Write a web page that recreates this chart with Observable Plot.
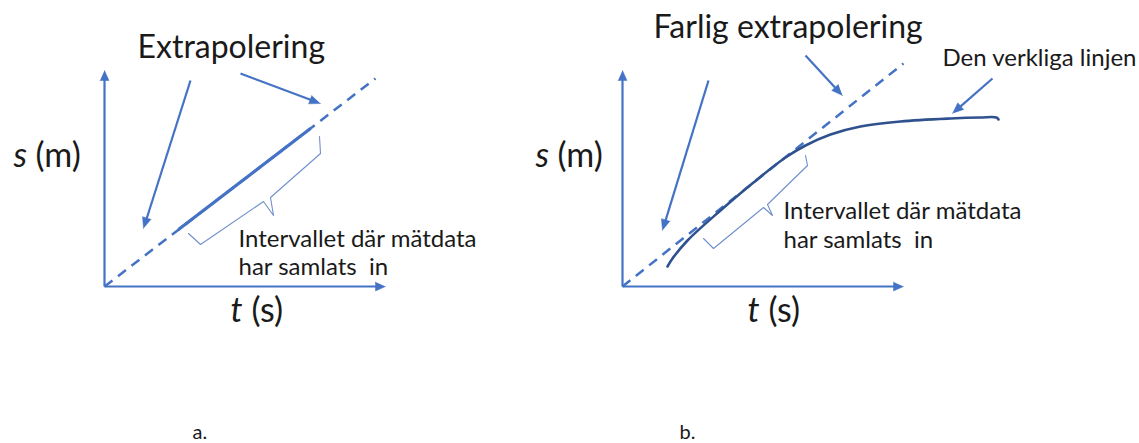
<!DOCTYPE html>
<html>
<head>
<meta charset="utf-8">
<script src="https://cdn.jsdelivr.net/npm/d3@7"></script>
<script src="https://cdn.jsdelivr.net/npm/@observablehq/plot@0.6"></script>
<style>
  html, body { margin: 0; padding: 0; background: #fff; }
  svg { display: block; }
</style>
</head>
<body>
<div id="chart"></div>
<script>
// ---- Diagram data (diagram units) ----
const axes = [
  {panel: "a", x1: 104, y1: 286, x2: 104, y2: 70},
  {panel: "a", x1: 104, y1: 286, x2: 385, y2: 286},
  {panel: "b", x1: 622, y1: 286, x2: 622, y2: 70},
  {panel: "b", x1: 622, y1: 286, x2: 903, y2: 286}
];
const pointers = [
  {panel: "a", x1: 190, y1: 80, x2: 143, y2: 228},
  {panel: "a", x1: 240, y1: 73, x2: 320, y2: 103},
  {panel: "b", x1: 708, y1: 80, x2: 662, y2: 230},
  {panel: "b", x1: 805, y1: 55, x2: 842, y2: 95},
  {panel: "b", x1: 992, y1: 78, x2: 952, y2: 113}
];
const extrapolated = [
  {panel: "a", x1: 104, y1: 286, x2: 375, y2: 78},
  {panel: "b", x1: 622, y1: 286, x2: 903, y2: 63}
];
const measured = [
  {panel: "a", x1: 178, y1: 229, x2: 310, y2: 128}
];
const realCurveX = [667, 672, 687, 720, 753, 785, 805, 830, 860, 900, 950, 980, 996, 998];
const realCurveY = [266, 258, 240, 210, 182, 157, 145, 134, 126, 121, 118, 117, 117, 119];
const braceA = [[188, 233], [200, 244], [263, 201], [273, 215], [270, 197], [320, 153], [319, 136]];
const braceB = [[703, 238], [713, 248], [763, 207], [772, 215], [767, 204], [807, 165], [805, 155]];
const titles = [
  {x: 137, y: 57, text: "Extrapolering"},
  {x: 653, y: 37, text: "Farlig extrapolering"}
];
const notes = [
  {x: 942, y: 65, text: "Den verkliga linjen"},
  {x: 238, y: 246, text: "Intervallet där mätdata"},
  {x: 238, y: 274, text: "har samlats\u00A0 in"},
  {x: 783, y: 218, text: "Intervallet där mätdata"},
  {x: 783, y: 247, text: "har samlats\u00A0 in"}
];
const axisVars = [
  {x: 13, y: 166, text: "s"}, {x: 535, y: 166, text: "s"},
  {x: 230, y: 321, text: "t"}, {x: 747, y: 321, text: "t"}
];
const axisUnits = [
  {x: 35, y: 166, text: "(m)"}, {x: 557, y: 166, text: "(m)"},
  {x: 251, y: 321, text: "(s)"}, {x: 768, y: 321, text: "(s)"}
];
const panelLabels = [
  {x: 192, y: 438, text: "a."},
  {x: 679, y: 438, text: "b."}
];

// ---- helpers ----
const BLUE = "#4472C4", DARK = "#2F528F", BRACE = "#6F8FCB", INK = "#1a1a1a";
const FONT = "Lato, 'Open Sans', sans-serif";

function heads(arrows, len, half) {
  const shafts = [], tris = [];
  arrows.forEach((a, i) => {
    const dx = a.x2 - a.x1, dy = a.y2 - a.y1, d = Math.hypot(dx, dy);
    const ux = dx / d, uy = dy / d, nx = -uy, ny = ux;
    const bx = a.x2 - ux * len, by = a.y2 - uy * len;
    shafts.push({x1: a.x1, y1: a.y1, x2: bx + ux, y2: by + uy});
    tris.push({id: i, x: a.x2, y: a.y2});
    tris.push({id: i, x: bx + nx * half, y: by + ny * half});
    tris.push({id: i, x: bx - nx * half, y: by - ny * half});
  });
  return {shafts, tris};
}
const axisH = heads(axes, 10, 4.5);
const ptrH = heads(pointers, 11, 4.5);
const curve = realCurveX.map((x, i) => ({x, y: realCurveY[i]}));
const braces = [
  ...braceA.map(([x, y]) => ({id: "a", x, y})),
  ...braceB.map(([x, y]) => ({id: "b", x, y}))
];

const chart = Plot.plot({
  width: 1139,
  height: 443,
  margin: 0,
  style: {background: "#fff"},
  x: {domain: [0, 1139], range: [0, 1139], axis: null},
  y: {domain: [0, 443], range: [0, 443], axis: null},
  marks: [
    Plot.link(extrapolated, {x1: "x1", y1: "y1", x2: "x2", y2: "y2", stroke: BLUE, strokeWidth: 2.5, strokeDasharray: "10,7"}),
    Plot.link(measured, {x1: "x1", y1: "y1", x2: "x2", y2: "y2", stroke: BLUE, strokeWidth: 3.2}),
    Plot.line(curve, {x: "x", y: "y", curve: "catmull-rom", stroke: DARK, strokeWidth: 2.6}),
    Plot.line(braces, {x: "x", y: "y", z: "id", stroke: BRACE, strokeWidth: 1.1}),
    Plot.link(axisH.shafts, {x1: "x1", y1: "y1", x2: "x2", y2: "y2", stroke: BLUE, strokeWidth: 2.2}),
    Plot.line(axisH.tris, {x: "x", y: "y", z: "id", fill: BLUE, stroke: BLUE, strokeWidth: 0.5}),
    Plot.link(ptrH.shafts, {x1: "x1", y1: "y1", x2: "x2", y2: "y2", stroke: BLUE, strokeWidth: 2.2}),
    Plot.line(ptrH.tris, {x: "x", y: "y", z: "id", fill: BLUE, stroke: BLUE, strokeWidth: 0.5}),
    Plot.text(titles, {x: "x", y: "y", text: "text", textAnchor: "start", lineAnchor: "bottom", fontSize: 32, fontFamily: FONT, fill: INK}),
    Plot.text(notes, {x: "x", y: "y", text: "text", textAnchor: "start", lineAnchor: "bottom", fontSize: 24, fontFamily: FONT, fill: INK}),
    Plot.text(axisVars, {x: "x", y: "y", text: "text", textAnchor: "start", lineAnchor: "bottom", fontSize: 34, fontStyle: "italic", fontFamily: FONT, fill: INK}),
    Plot.text(axisUnits, {x: "x", y: "y", text: "text", textAnchor: "start", lineAnchor: "bottom", fontSize: 34, fontFamily: FONT, fill: INK}),
    Plot.text(panelLabels, {x: "x", y: "y", text: "text", textAnchor: "start", lineAnchor: "bottom", fontSize: 20, fontFamily: FONT, fill: INK})
  ]
});
document.getElementById("chart").appendChild(chart);
</script>
</body>
</html>
